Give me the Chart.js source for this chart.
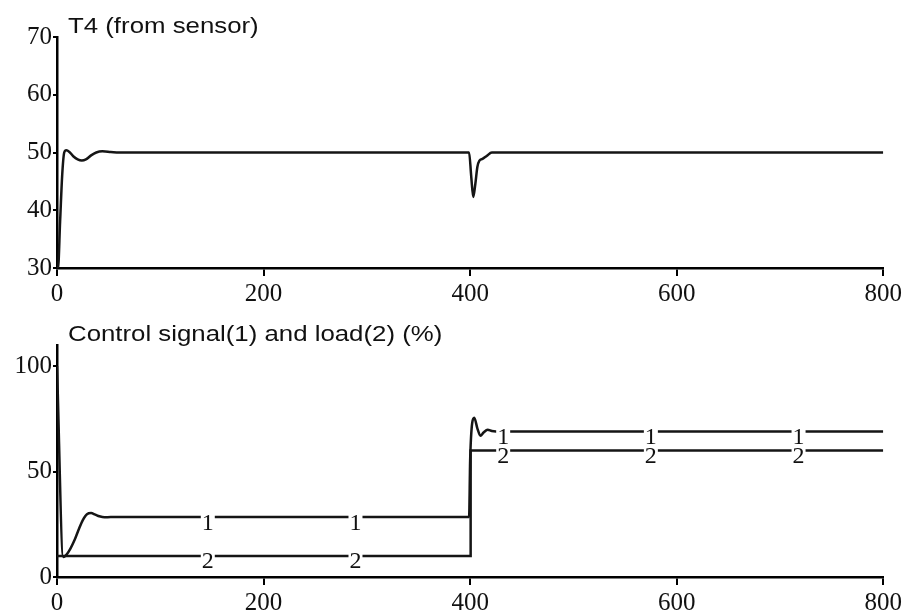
<!DOCTYPE html>
<html>
<head>
<meta charset="utf-8">
<title>T4 and control signal</title>
<script src="https://cdn.jsdelivr.net/npm/chart.js@4.4.0/dist/chart.umd.min.js"></script>
<style>
    body { margin: 0; background: #fff; }
    #wrap { position: relative; width: 905px; height: 614px; }
    canvas { position: absolute; left: 0; }
    #topChart { top: 0; }
    #bottomChart { top: 305px; }
</style>
</head>
<body>
<div id="wrap">
    <canvas id="topChart" width="905" height="305"></canvas>
    <canvas id="bottomChart" width="905" height="309"></canvas>
</div>
<script>
// time axis ticks, shared by both plots
const timeTicks = [0, 200, 400, 600, 800];

// T4 (from sensor)
const t4Time  = [0, 1, 3, 5, 7, 9, 12, 16, 20, 24, 28, 33, 38, 44, 52, 60, 399, 401, 403, 405, 407, 409, 412, 416, 421, 800];
const t4Value = [30, 30, 38, 46, 50, 50.4, 50.1, 49.3, 48.8, 48.6, 48.8, 49.5, 50, 50.2, 50.1, 50, 50, 46, 42.3, 44.5, 47.5, 48.6, 48.9, 49.4, 50, 50];
const t4Ticks = [30, 40, 50, 60, 70];

// Control signal (1)
const ctrlTime  = [0, 6, 9, 13, 17, 21, 25, 29, 33, 37, 41, 46, 52, 60, 399, 400, 402, 404, 407, 410, 413, 417, 421, 425, 800];
const ctrlValue = [100, 9.5, 10.5, 13.5, 17.5, 22.5, 27, 29.8, 30.3, 29.6, 28.8, 28.3, 28.4, 28.4, 28.4, 55, 73, 75.5, 70.5, 67, 68.5, 69.8, 69.2, 69, 69];

// Load (2)
const loadTime  = [0, 400, 400.5, 800];
const loadValue = [10, 10, 60, 60];
const pctTicks = [0, 50, 100];

// where the curve numbers sit along the time axis
const markTime = [146, 289, 432, 575, 718];

const points = (xs, ys) => xs.map((x, i) => ({ x, y: ys[i] }));

function valueAt(data, t) {
    let v = data[0].y;
    data.forEach(p => { if (p.x <= t) v = p.y; });
    return v;
}

// titles are drawn a bit wide, like the scanned original
const plotText = {
    id: 'plotText',
    afterDraw(chart, args, opts) {
        const ctx = chart.ctx;
        ctx.save();
        ctx.fillStyle = '#111';
        ctx.font = '21.5px "Liberation Sans", Arial, sans-serif';
        ctx.textBaseline = 'alphabetic';
        ctx.translate(opts.x, opts.y);
        ctx.scale(1.2, 1);
        ctx.fillText(opts.text, 0, 0);
        ctx.restore();

        // numbers on the curves
        const xs = chart.scales.x;
        const ys = chart.scales.y;
        ctx.save();
        ctx.font = '24px "Liberation Serif", "Times New Roman", serif';
        ctx.textAlign = 'center';
        ctx.textBaseline = 'alphabetic';
        chart.data.datasets.forEach(ds => {
            if (!ds.mark) return;
            markTime.forEach(t => {
                const px = xs.getPixelForValue(t);
                const py = ys.getPixelForValue(valueAt(ds.data, t));
                const w = ctx.measureText(ds.mark).width;
                ctx.fillStyle = '#fff';
                ctx.fillRect(px - w / 2 - 1, py - 3, w + 2, 6);
                ctx.fillStyle = '#111';
                ctx.fillText(ds.mark, px, py + 12.5);
            });
        });
        ctx.restore();
    }
};

function axes(yMin, yMax, yTicks) {
    return {
        x: {
            type: 'linear',
            min: 0,
            max: 800,
            afterBuildTicks: s => { s.ticks = timeTicks.map(v => ({ value: v })); },
            afterFit: s => { s.height = 37; },
            border: { color: '#000', width: 2.5 },
            grid: { drawOnChartArea: false, color: '#000', lineWidth: 2, tickLength: 8 },
            ticks: {
                color: '#111',
                font: { family: '"Liberation Serif", "Times New Roman", serif', size: 25 },
                padding: 3,
                maxRotation: 0,
                autoSkip: false
            }
        },
        y: {
            min: yMin,
            max: yMax,
            afterBuildTicks: s => { s.ticks = yTicks.map(v => ({ value: v })); },
            afterFit: s => { s.width = 57; },
            border: { color: '#000', width: 2.5 },
            grid: { drawOnChartArea: false, color: '#000', lineWidth: 2, tickLength: 4 },
            ticks: {
                color: '#111',
                font: { family: '"Liberation Serif", "Times New Roman", serif', size: 25 },
                padding: 1,
                autoSkip: false
            }
        }
    };
}

const lineStyle = {
    borderColor: '#151515',
    borderWidth: 2.5,
    pointRadius: 0,
    fill: false,
    cubicInterpolationMode: 'monotone'
};

new Chart(document.getElementById('topChart'), {
    type: 'line',
    data: {
        datasets: [
            Object.assign({ label: 'T4', data: points(t4Time, t4Value) }, lineStyle)
        ]
    },
    options: {
        responsive: false,
        devicePixelRatio: 1,
        animation: false,
        layout: { padding: { top: 37, right: 21, left: 0, bottom: 0 } },
        scales: axes(30, 70, t4Ticks),
        plugins: {
            legend: { display: false },
            tooltip: { enabled: false },
            plotText: { text: 'T4 (from sensor)', x: 68, y: 33 }
        }
    },
    plugins: [plotText]
});

new Chart(document.getElementById('bottomChart'), {
    type: 'line',
    data: {
        datasets: [
            Object.assign({ label: 'Control signal', mark: '1', data: points(ctrlTime, ctrlValue) }, lineStyle),
            Object.assign({ label: 'Load', mark: '2', data: points(loadTime, loadValue) }, lineStyle, { cubicInterpolationMode: 'default', tension: 0 })
        ]
    },
    options: {
        responsive: false,
        devicePixelRatio: 1,
        animation: false,
        layout: { padding: { top: 40, right: 21, left: 0, bottom: 0 } },
        scales: axes(0, 110, pctTicks),
        plugins: {
            legend: { display: false },
            tooltip: { enabled: false },
            plotText: { text: 'Control signal(1) and load(2) (%)', x: 68, y: 36 }
        }
    },
    plugins: [plotText]
});
</script>
</body>
</html>
